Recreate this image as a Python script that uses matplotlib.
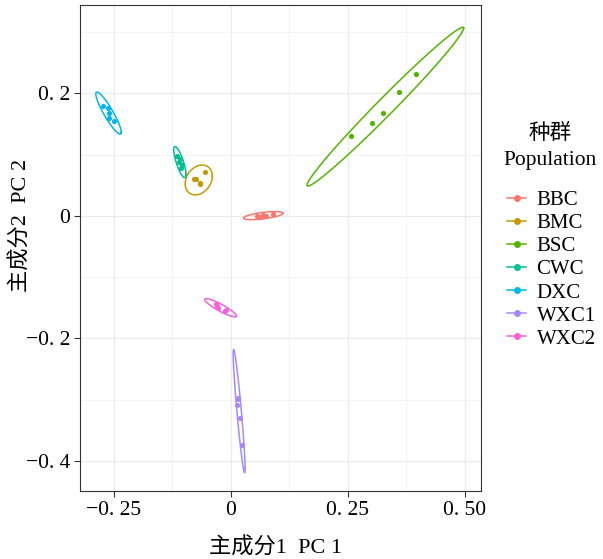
import numpy as np
import matplotlib
matplotlib.use("Agg")
import matplotlib.pyplot as plt
from matplotlib.lines import Line2D

plt.rcParams['font.family'] = ['Liberation Serif', 'Noto Sans CJK SC']

# PCA scores (5 samples per population, some overlap)
populations = ["BBC", "BMC", "BSC", "CWC", "DXC", "WXC1", "WXC2"]
colors = ["#F8766D", "#C49A00", "#53B400", "#00C094", "#00B6EB", "#A58AFF", "#FB61D7"]

bbc_x = [0.0556, 0.0620, 0.0684, 0.0748, 0.0897]
bbc_y = [0.0000, -0.0020, 0.0020, -0.0007, 0.0029]
bmc_x = [-0.0543, -0.0774, -0.0748, -0.0658, -0.0645]
bmc_y = [0.0715, 0.0598, 0.0607, 0.0519, 0.0529]
bsc_x = [0.2564, 0.3013, 0.3263, 0.3590, 0.3953]
bsc_y = [0.1295, 0.1518, 0.1677, 0.2013, 0.2318]
cwc_x = [-0.1143, -0.1079, -0.1111, -0.1047, -0.1058]
cwc_y = [0.0980, 0.0931, 0.0873, 0.0833, 0.0784]
dxc_x = [-0.2725, -0.2631, -0.2607, -0.2593, -0.2489]
dxc_y = [0.1799, 0.1757, 0.1673, 0.1590, 0.1548]
wxc1_x = [0.0167, 0.0156, 0.0143, 0.0207, 0.0241]
wxc1_y = [-0.2996, -0.2976, -0.3086, -0.3303, -0.3739]
wxc2_x = [-0.0306, -0.0288, -0.0271, -0.0118, -0.0092]
wxc2_y = [-0.1442, -0.1469, -0.1507, -0.1548, -0.1535]

groups_x = [bbc_x, bmc_x, bsc_x, cwc_x, dxc_x, wxc1_x, wxc2_x]
groups_y = [bbc_y, bmc_y, bsc_y, cwc_y, dxc_y, wxc1_y, wxc2_y]

xticks = [-0.25, 0, 0.25, 0.50]
xlabels = ["\u22120. 25", "0", "0. 25", "0. 50"]
yticks = [-0.4, -0.2, 0, 0.2]
ylabels = ["\u22120. 4", "\u22120. 2", "0", "0. 2"]


def cov_trob(pts, nu=5, maxit=25, tol=0.01):
    # robust t covariance, same steps as MASS::cov.trob
    n, p = pts.shape
    wt = np.ones(n)
    loc = pts.mean(axis=0)
    w = np.sqrt(wt)
    for _ in range(maxit):
        w0 = w
        X = pts - loc
        _, d, vt = np.linalg.svd(np.sqrt(wt / wt.sum())[:, None] * X, full_matrices=False)
        wX = X @ vt.T / d
        Q = (wX ** 2).sum(axis=1)
        w = wt * (nu + p) / (nu + Q)
        loc = (w[:, None] * pts).sum(axis=0) / w.sum()
        if np.all(np.abs(w - w0) < tol):
            break
    sX = np.sqrt(w)[:, None] * X
    return loc, sX.T @ sX / wt.sum()


def ellipse(xs, ys, level=0.95, segments=51):
    pts = np.column_stack([xs, ys])
    center, shape = cov_trob(pts)
    dfd = len(xs) - 1
    fq = dfd / 2 * ((1 - level) ** (-2 / dfd) - 1)  # F(2, dfd) quantile
    radius = np.sqrt(2 * fq)
    chol = np.linalg.cholesky(shape).T
    a = np.linspace(0, 2 * np.pi, segments + 1)
    circle = np.column_stack([np.cos(a), np.sin(a)])
    return center + radius * circle @ chol


fig = plt.figure(figsize=(6.03, 5.59), dpi=100)
ax = fig.add_axes([80 / 603, 68 / 559, 401 / 603, 486 / 559])

for xs, ys, col in zip(groups_x, groups_y, colors):
    e = ellipse(xs, ys)
    ax.plot(e[:, 0], e[:, 1], color=col, lw=1.1, zorder=3)
    ax.scatter(xs, ys, s=14, color=col, zorder=4, linewidths=0)

ax.set_xlim(-0.322, 0.535)
ax.set_ylim(-0.449, 0.344)
ax.set_xticks(xticks)
ax.set_xticklabels(xlabels)
ax.set_yticks(yticks)
ax.set_yticklabels(ylabels)
ax.set_xticks([-0.125, 0.125, 0.375], minor=True)
ax.set_yticks([-0.3, -0.1, 0.1, 0.3], minor=True)
ax.grid(True, which="major", color="#EBEBEB", lw=0.9)
ax.grid(True, which="minor", color="#F2F2F2", lw=0.6)
ax.set_axisbelow(True)
ax.tick_params(which="major", direction="out", length=4, width=0.8, color="#333333",
               labelsize=15.5, labelcolor="black", pad=3)
ax.tick_params(which="minor", length=0)
for s in ax.spines.values():
    s.set_color("#333333")
    s.set_linewidth(0.8)

ax.set_xlabel("主成分1  PC 1", fontsize=16)
ax.set_ylabel("主成分2  PC 2", fontsize=16)
ax.xaxis.set_label_coords(0.4875, -0.095)
ax.yaxis.set_label_coords(-0.12, 0.547)

# legend title, two centred lines
fig.text(550 / 603, 1 - 134 / 559, "种群", fontsize=15.5, ha="center", va="center")
fig.text(550 / 603, 1 - 161 / 559, "Population", fontsize=15.5, ha="center", va="center")

handles = [Line2D([], [], color=c, marker="o", markersize=4, lw=1.1) for c in colors]
fig.legend(handles, populations, loc="upper left",
           bbox_to_anchor=(497 / 603, 1 - 180 / 559), frameon=False, borderpad=0,
           fontsize=15, handlelength=0.9, handletextpad=0.5, labelspacing=0.17)

fig.savefig("out.png", dpi=100)
